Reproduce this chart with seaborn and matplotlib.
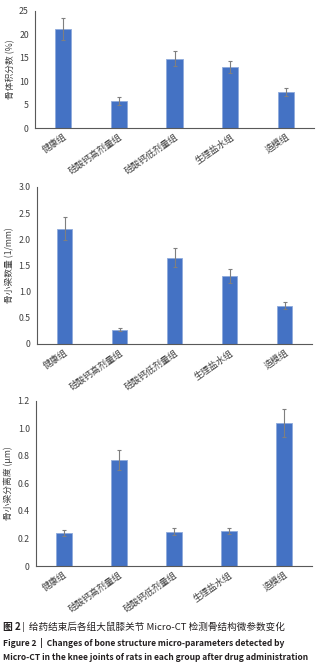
import numpy as np
import pandas as pd
import seaborn as sns
import matplotlib.pyplot as plt

# groups and values
groups = ["健康组", "硅酸钙高剂量组", "硅酸钙低剂量组", "生理盐水组", "造模组"]

bvtv = [21.1, 5.8, 14.8, 13.0, 7.7]
bvtv_err = [2.3, 0.8, 1.6, 1.3, 0.8]

tbn = [2.20, 0.27, 1.65, 1.30, 0.73]
tbn_err = [0.22, 0.03, 0.18, 0.13, 0.07]

tbsp = [0.24, 0.77, 0.25, 0.255, 1.04]
tbsp_err = [0.025, 0.075, 0.025, 0.025, 0.10]

ylabels = ["骨体积分数 (%)", "骨小梁数量 (1/mm)", "骨小梁分离度 (μm)"]
yticks = [[0, 5, 10, 15, 20, 25],
          [0, 0.5, 1.0, 1.5, 2.0, 2.5, 3.0],
          [0, 0.2, 0.4, 0.6, 0.8, 1.0, 1.2]]
yticklabels = [["0", "5", "10", "15", "20", "25"],
               ["0", "0.5", "1.0", "1.5", "2.0", "2.5", "3.0"],
               ["0", "0.2", "0.4", "0.6", "0.8", "1.0", "1.2"]]

sns.set_style("white")
plt.rcParams['font.family'] = ['Noto Sans CJK SC', 'DejaVu Sans']

W, H = 327, 668
fig = plt.figure(figsize=(W / 100, H / 100), dpi=100)

# axes boxes in pixels: left, top, right, bottom
boxes = [(35, 11, 314, 128), (37, 187, 312, 344), (36, 401, 312, 566)]

panels = [(bvtv, bvtv_err), (tbn, tbn_err), (tbsp, tbsp_err)]

for i, ((vals, errs), box) in enumerate(zip(panels, boxes)):
    l, t, r, b = box
    ax = fig.add_axes([l / W, 1 - b / H, (r - l) / W, (b - t) / H])
    df = pd.DataFrame({"group": groups, "value": vals})
    sns.barplot(data=df, x="group", y="value", ax=ax, color="#4472C4",
                width=0.29, edgecolor="#8FAADC", linewidth=0.6, saturation=1)
    ax.errorbar(np.arange(len(groups)), vals, yerr=errs, fmt="none",
                ecolor="#7F7F7F", elinewidth=0.8, capsize=1.5, capthick=0.8)
    ax.set_ylim(yticks[i][0], yticks[i][-1])
    ax.set_xlim(-0.5, 4.5)
    ax.set_yticks(yticks[i])
    ax.set_yticklabels(yticklabels[i], fontsize=6.3, color="#404040")
    ax.set_xticks(range(len(groups)))
    ax.set_xticklabels(groups, rotation=35, ha="right", rotation_mode="anchor",
                       fontsize=6.5, color="#404040")
    ax.set_xlabel("")
    ax.set_ylabel(ylabels[i], fontsize=6.3, color="#404040", labelpad=3)
    ax.tick_params(axis="y", direction="out", length=2.5, width=0.6, pad=2,
                   colors="#404040")
    ax.tick_params(axis="x", length=0, pad=3)
    for s in ["top", "right"]:
        ax.spines[s].set_visible(False)
    for s in ["left", "bottom"]:
        ax.spines[s].set_color("#595959")
        ax.spines[s].set_linewidth(0.8)

# caption
fig.text(3 / W, 1 - 630 / H, "图 2", fontsize=7, fontweight="bold",
         color="#231F20", va="baseline")
fig.text(22 / W, 1 - 630 / H, "|  给药结束后各组大鼠膝关节 Micro-CT 检测骨结构微参数变化",
         fontsize=6.9, color="#231F20", va="baseline")
fig.text(3 / W, 1 - 646 / H, "Figure 2  |  Changes of bone structure micro-parameters detected by",
         fontsize=6.1, fontweight="bold", color="#231F20", va="baseline")
fig.text(3 / W, 1 - 660 / H, "Micro-CT in the knee joints of rats in each group after drug administration",
         fontsize=6.1, fontweight="bold", color="#231F20", va="baseline")

fig.savefig("out.png", dpi=100)
